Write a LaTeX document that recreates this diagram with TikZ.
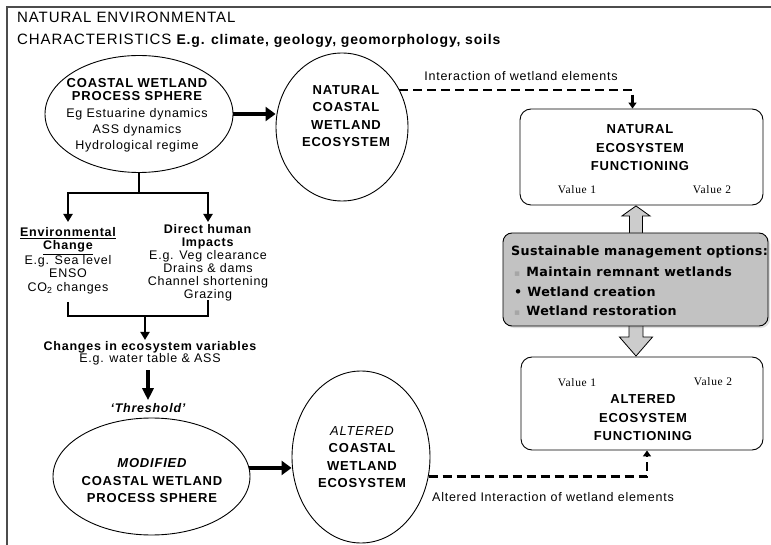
\documentclass[tikz,border=0pt]{standalone}
\usepackage{fontspec}
\setmainfont{Liberation Sans}[LetterSpace=6]
\newfontfamily\serifv{Liberation Serif}[LetterSpace=6]
\newfontfamily\dvs{DejaVu Sans}[LetterSpace=3]
\usetikzlibrary{arrows.meta,shapes.geometric,shadows,calc}
\newcommand{\fs}[1]{\fontsize{#1}{#1}\selectfont}
\begin{document}
\begin{tikzpicture}[x=1pt,y=-1pt,
  conn/.style={line width=2pt},
  tip/.style={-{Triangle[length=8pt,width=9pt]}},
  bigarrow/.style={line width=4.5pt,-{Triangle[length=10pt,width=14pt]}},
  downarrow/.style={line width=3.5pt,-{Triangle[length=12pt,width=11pt]}},
  dasharrow/.style={line width=2.2pt, dash pattern=on 9pt off 5pt, -{Triangle[length=6pt,width=8pt]}},
  ring/.style={ellipse, draw, line width=0.9pt, inner sep=0pt},
  fbox/.style={draw, rounded corners=11pt, line width=0.9pt, inner sep=0pt},
  txt/.style={align=center, inner sep=1pt, font=\fontsize{12.5}{13.5}\selectfont},
  btxt/.style={align=center, inner sep=1pt, font=\bfseries\fontsize{13}{17.5}\selectfont},
  val/.style={inner sep=1pt, font=\serifv\fs{11.5}},
  grayarr/.style={draw=black, line width=0.8pt, fill=gray!40},
  gtxt/.style={anchor=west, inner sep=0pt, font=\dvs\bfseries\fs{12.7}}
]
\useasboundingbox (0,0) rectangle (771,545);
% frame
\draw[line width=1.3pt, black!70] (7,545) -- (7,7) -- (771,7);

% title
\node[anchor=base west, inner sep=0pt, font=\fs{15}] (t1) at (17,23) {NATURAL ENVIRONMENTAL};
\node[anchor=base west, inner sep=0pt, font=\fs{15}] (t2) at (17,45) {CHARACTERISTICS {\bfseries\fs{14}E.g. climate, geology, geomorphology, soils}};

% top ellipse
\node[ring, minimum width=188, minimum height=117] (e1) at (139,114) {};
\node[align=center, inner sep=0pt, font=\fs{12.5}] (e1t) at (137,115)
  {{\bfseries\fs{13}COASTAL WETLAND}\\[1pt]{\bfseries\fs{13}PROCESS SPHERE}\\[4pt]Eg Estuarine dynamics\\[4pt]ASS dynamics\\[3pt]Hydrological regime};

% natural circle
\node[ring, minimum width=132, minimum height=148] (c1) at (342,127) {};
\node[btxt] (c1t) at (346,116) {NATURAL\\COASTAL\\WETLAND\\ECOSYSTEM};

\draw[bigarrow] (e1.east) -- (c1.west |- e1.east);

% natural functioning box
\node[fbox, minimum width=243, minimum height=96] (b1) at (641.5,157) {};
\node[btxt, font=\bfseries\fontsize{13}{18.5}\selectfont] (b1t) at (640,148) {NATURAL\\ECOSYSTEM\\FUNCTIONING};
\node[val] (b1v1) at (577,190) {Value 1};
\node[val] (b1v2) at (712,190) {Value 2};

% dashed interaction 1
\draw[dasharrow] (c1.33) -| ([xshift=-9pt]b1.north);
\node[txt] (l1) at (521,76) {Interaction of wetland elements};

% altered functioning box
\node[fbox, minimum width=242, minimum height=93] (b2) at (642,403.5) {};
\node[btxt, font=\bfseries\fontsize{13}{18.5}\selectfont] (b2t) at (643,418) {ALTERED\\ECOSYSTEM\\FUNCTIONING};
\node[val] (b2v1) at (577,383) {Value 1};
\node[val] (b2v2) at (713,382) {Value 2};

% gray arrows (drawn before box so the box covers their bases)
\coordinate (ua) at ($(b1.south)+(-5.5,0.5)$);
\draw[grayarr] (ua) -- ++(14,10) -- ++(-7.5,0) -- ++(0,20) -- ++(-13,0) -- ++(0,-20) -- ++(-7.5,0) -- cycle;
\coordinate (da) at ($(b2.north)+(-6,-0.5)$);
\draw[grayarr] (da) -- ++(16.5,-19) -- ++(-9.5,0) -- ++(0,-15) -- ++(-14,0) -- ++(0,15) -- ++(-9.5,0) -- cycle;

% gray management box
\node[draw, fill=gray!48, rounded corners=9pt, line width=0.9pt, minimum width=265, minimum height=93,
      drop shadow={opacity=0.25, shadow xshift=2pt, shadow yshift=-2pt}] (g) at (635.5,279.5) {};
\node[gtxt] (g0) at (511,252) {Sustainable management options:};
\node[gtxt] (g1) at (514,272) {{\color{gray!70}\fs{9}▪}\hspace{6pt}Maintain remnant wetlands};
\node[gtxt] (g2) at (514,292) {•\hspace{5pt}Wetland creation};
\node[gtxt] (g3) at (514,311) {{\color{gray!70}\fs{9}▪}\hspace{6pt}Wetland restoration};

% left flow
\coordinate (split) at (139,193);
\node[txt, anchor=north] (env) at (68,226)
  {\textbf{\underline{Environmental}}\\\textbf{\underline{Change}}\\E.g. Sea level\\ENSO\\CO\textsubscript{2} changes};
\node[txt, anchor=north, font=\fontsize{12.5}{13}\selectfont] (hum) at (208,223)
  {\textbf{Direct human}\\\textbf{Impacts}\\E.g. Veg clearance\\Drains \& dams\\Channel shortening\\Grazing};
\draw[conn] (e1.south) -- (split);
\draw[conn, tip] (split) -| ([yshift=4pt]env.north);
\draw[conn, tip] (split) -| ([yshift=1pt]hum.north);

\coordinate (bl) at (68,302);
\coordinate (br) at (208,300);
\coordinate (bm) at (145,316);
\draw[conn] (bl) |- (bm) -| (br);

\node[txt, font=\bfseries\fs{12.5}] (chg) at (150,347) {Changes in ecosystem variables};
\node[txt] (eg) at (150,359) {E.g. water table \& ASS};
\draw[conn, tip] (bm) -- (bm |- chg.north);

\node[txt, font=\bfseries\itshape\fs{12.5}] (thr) at (148,408) {`Threshold'};
\draw[downarrow] ([yshift=-4pt]eg.south -| thr) -- ([yshift=2pt]thr.north);

% modified ellipse
\node[ring, minimum width=197, minimum height=117] (e2) at (151.5,476.5) {};
\node[btxt] (e2t) at (152,481) {\itshape MODIFIED\\COASTAL WETLAND\\PROCESS SPHERE};

% altered circle
\node[ring, minimum width=138, minimum height=172] (c2) at (361,457) {};
\node[btxt] (c2t) at (362,457) {\mdseries\itshape ALTERED\\COASTAL\\WETLAND\\ECOSYSTEM};

\draw[bigarrow] (e2.5) -- (c2.west |- e2.5);

% dashed interaction 2
\draw[dasharrow] (c2.-16) -| ([xshift=5pt]b2.south);
\node[txt, anchor=west] (l2) at (431,497) {Altered Interaction of wetland elements};
\end{tikzpicture}
\end{document}
